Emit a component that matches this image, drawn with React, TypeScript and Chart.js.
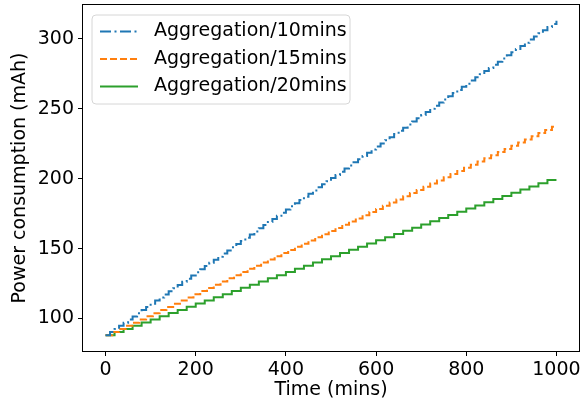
import React, { useEffect, useRef } from "react";
import { Chart, registerables } from "chart.js";

Chart.register(...registerables);

const SERIES_LABELS = ["Aggregation/10mins", "Aggregation/15mins", "Aggregation/20mins"];
const SERIES_COLORS = ["#1f77b4", "#ff7f0e", "#2ca02c"];

// Time grids (minutes) of each aggregation period
const TIMES_10 = Array.from({ length: 101 }, (_, i) => i * 10);
const TIMES_15 = [...Array.from({ length: 67 }, (_, i) => i * 15), 1000];
const TIMES_20 = Array.from({ length: 51 }, (_, i) => i * 20);

// Power consumption (mAh)
const VALUES_10 = [
  88.0, 90.3, 92.5, 94.8, 97.0, 99.2, 101.5, 103.8, 106.0, 108.2,
  110.5, 112.8, 115.0, 117.2, 119.5, 121.7, 124.0, 126.3, 128.5, 130.7,
  133.0, 135.2, 137.5, 139.8, 142.0, 144.2, 146.5, 148.7, 151.0, 153.3,
  155.5, 157.7, 160.0, 162.2, 164.5, 166.8, 169.0, 171.2, 173.5, 175.7,
  178.0, 180.3, 182.5, 184.7, 187.0, 189.2, 191.5, 193.8, 196.0, 198.2,
  200.5, 202.7, 205.0, 207.3, 209.5, 211.7, 214.0, 216.2, 218.5, 220.8,
  223.0, 225.2, 227.5, 229.7, 232.0, 234.3, 236.5, 238.7, 241.0, 243.2,
  245.5, 247.8, 250.0, 252.2, 254.5, 256.7, 259.0, 261.3, 263.5, 265.7,
  268.0, 270.2, 272.5, 274.8, 277.0, 279.2, 281.5, 283.7, 286.0, 288.3,
  290.5, 292.7, 295.0, 297.2, 299.5, 301.8, 304.0, 306.2, 308.5, 310.7,
  313.0,
];
const VALUES_15 = [
  88.0, 90.3, 92.5, 94.8, 97.0, 99.3, 101.6, 103.8, 106.1, 108.3,
  110.6, 112.9, 115.1, 117.4, 119.6, 121.9, 124.2, 126.4, 128.7, 130.9,
  133.2, 135.5, 137.7, 140.0, 142.2, 144.5, 146.8, 149.0, 151.3, 153.5,
  155.8, 158.1, 160.3, 162.6, 164.8, 167.1, 169.4, 171.6, 173.9, 176.1,
  178.4, 180.7, 182.9, 185.2, 187.4, 189.7, 192.0, 194.2, 196.5, 198.7,
  201.0, 203.3, 205.5, 207.8, 210.0, 212.3, 214.6, 216.8, 219.1, 221.3,
  223.6, 225.9, 228.1, 230.4, 232.6, 234.9, 237.2, 237.2,
];
const VALUES_20 = [
  88.0, 90.3, 92.5, 94.8, 97.1, 99.3, 101.6, 103.9, 106.1, 108.4,
  110.7, 112.9, 115.2, 117.4, 119.7, 122.0, 124.2, 126.5, 128.8, 131.0,
  133.3, 135.6, 137.8, 140.1, 142.4, 144.6, 146.9, 149.2, 151.4, 153.7,
  155.9, 158.2, 160.5, 162.7, 165.0, 167.3, 169.5, 171.8, 174.1, 176.3,
  178.6, 180.9, 183.1, 185.4, 187.7, 189.9, 192.2, 194.5, 196.7, 199.0,
  199.0,
];

const X_TICKS = [0, 200, 400, 600, 800, 1000];
const Y_TICKS = [100, 150, 200, 250, 300];
const X_TITLE = "Time (mins)";
const Y_TITLE = "Power consumption (mAh)";

const FONT = "'DejaVu Sans', sans-serif";
const DASHES = [[11, 3.5, 2, 3.5], [7, 3], []];

const framePlugin = {
  id: "frame",
  afterDatasetsDraw(chart: any) {
    const { ctx, chartArea: a } = chart;
    ctx.save();
    ctx.strokeStyle = "#000";
    ctx.lineWidth = 1;
    ctx.strokeRect(Math.round(a.left) - 0.5, Math.round(a.top) - 0.5, Math.round(a.right - a.left) + 1, Math.round(a.bottom - a.top) + 1);
    ctx.restore();
  },
};

const legendPlugin = {
  id: "mplLegend",
  afterDraw(chart: any) {
    const { ctx } = chart;
    const x0 = 92, y0 = 15, w = 258, h = 89;
    ctx.save();
    ctx.beginPath();
    const r = 4;
    ctx.moveTo(x0 + r, y0);
    ctx.arcTo(x0 + w, y0, x0 + w, y0 + h, r);
    ctx.arcTo(x0 + w, y0 + h, x0, y0 + h, r);
    ctx.arcTo(x0, y0 + h, x0, y0, r);
    ctx.arcTo(x0, y0, x0 + w, y0, r);
    ctx.closePath();
    ctx.fillStyle = "rgba(255,255,255,0.8)";
    ctx.fill();
    ctx.strokeStyle = "#d6d6d6";
    ctx.lineWidth = 1;
    ctx.stroke();
    chart.data.datasets.forEach((ds: any, i: number) => {
      const cy = 31.5 + i * 27.5;
      ctx.beginPath();
      ctx.setLineDash(ds.borderDash || []);
      ctx.strokeStyle = ds.borderColor;
      ctx.lineWidth = ds.borderWidth;
      ctx.moveTo(100, cy);
      ctx.lineTo(138, cy);
      ctx.stroke();
      ctx.setLineDash([]);
      ctx.fillStyle = "#000";
      ctx.font = `19px ${FONT}`;
      ctx.textBaseline = "middle";
      ctx.textAlign = "left";
      ctx.fillText(ds.label, 154, cy);
    });
    ctx.restore();
  },
};

export default function App() {
  const ref = useRef<HTMLCanvasElement>(null);
  useEffect(() => {
    document.body.style.margin = "0";
    const times = [TIMES_10, TIMES_15, TIMES_20];
    const values = [VALUES_10, VALUES_15, VALUES_20];
    const chart = new Chart(ref.current!, {
      type: "line",
      data: {
        datasets: SERIES_LABELS.map((label, i) => ({
          label,
          data: times[i].map((t, j) => ({ x: t, y: values[i][j] })),
          borderColor: SERIES_COLORS[i],
          backgroundColor: SERIES_COLORS[i],
          borderWidth: 2,
          borderDash: DASHES[i],
          pointRadius: 0,
          stepped: "before" as const,
          fill: false,
        })),
      },
      options: {
        animation: false,
        responsive: false,
        devicePixelRatio: 1,
        layout: { padding: { left: 0, right: 3, top: 5, bottom: 0 } },
        plugins: { legend: { display: false }, tooltip: { enabled: false } },
        scales: {
          x: {
            type: "linear",
            min: -50,
            max: 1050,
            afterBuildTicks: (s: any) => { s.ticks = X_TICKS.map((v) => ({ value: v })); },
            afterFit: (s: any) => { s.height = 54; s.paddingLeft = 0; s.paddingRight = 0; },
            grid: { drawOnChartArea: false, tickLength: 5, color: "#000", tickWidth: 1 },
            border: { display: false },
            ticks: { color: "#000", font: { family: FONT, size: 19 }, padding: 3, maxRotation: 0, autoSkip: false, callback: (v: any) => String(v) },
            title: { display: true, text: X_TITLE, color: "#000", font: { family: FONT, size: 19, lineHeight: 1 }, padding: { top: 0, bottom: 5 } },
          },
          y: {
            type: "linear",
            min: 76.75,
            max: 324.25,
            afterBuildTicks: (s: any) => { s.ticks = Y_TICKS.map((v) => ({ value: v })); },
            afterFit: (s: any) => { s.width = 83; s.paddingTop = 0; s.paddingBottom = 0; },
            grid: { drawOnChartArea: false, tickLength: 5, color: "#000", tickWidth: 1 },
            border: { display: false },
            ticks: { color: "#000", font: { family: FONT, size: 19 }, padding: 4, autoSkip: false, callback: (v: any) => String(v) },
            title: { display: true, text: Y_TITLE, color: "#000", font: { family: FONT, size: 19, lineHeight: 1 }, padding: { top: 11, bottom: 0 } },
          },
        },
      },
      plugins: [framePlugin, legendPlugin],
    });
    return () => chart.destroy();
  }, []);
  return <canvas ref={ref} width={582} height={405} style={{ display: "block" }} />;
}
